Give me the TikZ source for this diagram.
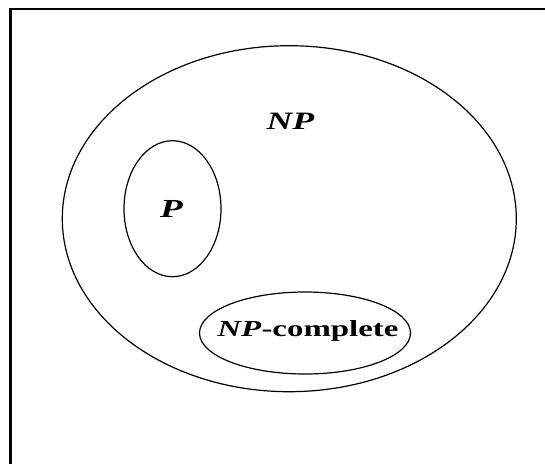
\documentclass[tikz,border=0pt]{standalone}
\usepackage{fontspec}
\setmainfont{Liberation Serif}
\usepackage{graphicx}
\usetikzlibrary{shapes.geometric}
\tikzset{
  setshape/.style={draw, ellipse, line width=1.2pt, inner sep=0pt},
  setlabel/.style={anchor=base, inner sep=0pt},
  frameline/.style={draw, line width=2.6pt}
}
\newcommand{\stretchtext}[2]{\scalebox{1.43}[1]{\fontsize{#1}{#1}\selectfont #2}}
\begin{document}
\begin{tikzpicture}[x=1pt,y=-1pt]
\clip (0,0) rectangle (545,463);
\fill[white] (0,0) rectangle (545,463);
\path[frameline] (10.5,9) rectangle (600,520);
\node[setshape, minimum width=454pt, minimum height=346pt] (np) at (289.3,218.7) {};
\node[setshape, minimum width=97pt, minimum height=136pt] (p) at (172.5,208.7) {};
\node[setshape, minimum width=211pt, minimum height=82pt] (npc) at (305,333) {};
\node[setlabel] (nplabel) at (290.5,129.3) {\stretchtext{25}{\textbf{\textit{NP}}}};
\node[setlabel] (plabel) at (171.5,217.3) {\stretchtext{26}{\textbf{\textit{P}}}};
\node[setlabel] (npclabel) at (308,336) {\stretchtext{23}{\textbf{\textit{NP}-complete}}};
\end{tikzpicture}
\end{document}
